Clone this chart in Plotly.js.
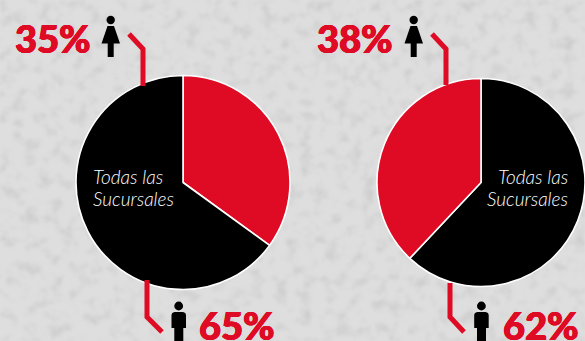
<!DOCTYPE html>
<html>
<head>
<meta charset="utf-8">
<script src="https://cdn.plot.ly/plotly-3.0.1.min.js"></script>
<style>
html, body { margin: 0; padding: 0; width: 585px; height: 341px; overflow: hidden; background: #d9d9d9; }
#wall { position: absolute; left: 0; top: 0; }
#chart { position: absolute; left: 0; top: 0; width: 585px; height: 341px; }
</style>
</head>
<body>
<!-- Plaster-like backdrop behind the chart -->
<svg id="wall" width="585" height="341">
  <filter id="plaster" x="0" y="0" width="100%" height="100%">
    <feTurbulence type="fractalNoise" baseFrequency="0.08" numOctaves="3" seed="11"/>
    <feColorMatrix type="matrix" values="0 0 0 0 0.4  0 0 0 0 0.4  0 0 0 0 0.4  0.8 0 0 0 -0.38"/>
    <feGaussianBlur stdDeviation="1.2"/>
  </filter>
  <rect width="585" height="341" fill="#dedede"/>
  <rect width="585" height="341" filter="url(#plaster)"/>
</svg>
<div id="chart"></div>
<script>
// Share of women and men, all branches, for the two periods
const groupLabels = ["Mujeres", "Hombres"];
const leftValues = [35, 65];
const rightValues = [62, 38];
const rightLabels = ["Hombres", "Mujeres"];
const leftColors = ["#df0a24", "#000000"];
const rightColors = ["#000000", "#df0a24"];
const centerLines = ["Todas las", "Sucursales"];
const womenText = ["35%", "38%"];
const menText = ["65%", "62%"];

const W = 585, H = 341;
const RED = "#df0a24";
const fx = x => x / W;
const fy = y => 1 - y / H;

function pieDomain(cx, cy, r) {
  return { x: [fx(cx - r), fx(cx + r)], y: [fy(cy + r), fy(cy - r)] };
}

function pieTrace(labels, values, colors, domain) {
  return {
    type: "pie", labels, values, sort: false, direction: "clockwise", rotation: 0,
    textinfo: "none", hoverinfo: "label+percent", showlegend: false,
    marker: { colors, line: { color: "#ffffff", width: 1.6 } }, domain
  };
}

// Polyline or closed outline in page pixels, placed on the paper
function pathOf(points, closed) {
  const d = points.map((p, i) => (i ? "L" : "M") + fx(p[0]).toFixed(5) + "," + fy(p[1]).toFixed(5)).join(" ");
  return d + (closed ? " Z" : "");
}

function leader(points) {
  return { type: "path", xref: "paper", yref: "paper", path: pathOf(points), line: { color: RED, width: 5 }, layer: "above" };
}

function solid(points) {
  return { type: "path", xref: "paper", yref: "paper", path: pathOf(points, true), fillcolor: "#000", line: { width: 0 }, layer: "above" };
}

function head(cx, cy, r) {
  return { type: "circle", xref: "paper", yref: "paper", x0: fx(cx - r), x1: fx(cx + r), y0: fy(cy + r), y1: fy(cy - r), fillcolor: "#000", line: { width: 0 }, layer: "above" };
}

function womanIcon(dx) {
  return [
    head(110.7 + dx, 20, 4.2),
    solid([[107.5 + dx, 26], [114 + dx, 26], [120 + dx, 43.5], [113.7 + dx, 43.5], [113.7 + dx, 57], [107.7 + dx, 57], [107.7 + dx, 43.5], [101.5 + dx, 43.5]])
  ];
}

function manIcon(dx) {
  return [
    head(178.7 + dx, 306, 4.4),
    solid([[174.5 + dx, 312], [183 + dx, 312], [185.3 + dx, 313], [186 + dx, 315], [186 + dx, 328], [183.3 + dx, 328], [183.3 + dx, 341], [174.3 + dx, 341], [174.3 + dx, 328], [171.5 + dx, 328], [171.5 + dx, 315], [172.2 + dx, 313]])
  ];
}

function percentNote(text, x, y) {
  return {
    text, xref: "paper", yref: "paper", x: fx(x), y: fy(y), xanchor: "center", yanchor: "middle", showarrow: false,
    font: {
      family: "Lato, sans-serif", size: 38, color: RED, weight: 900,
      shadow: "0.6px 0 0 " + RED + ", -0.6px 0 0 " + RED + ", 0 0.4px 0 " + RED + ", 0 -0.4px 0 " + RED
    }
  };
}

function centerNote(text, x, y, side) {
  return {
    text, xref: "paper", yref: "paper", x: fx(x), y: fy(y), xanchor: side, yanchor: "middle", showarrow: false, align: side,
    font: { family: "Lato, sans-serif", size: 19, color: "#ffffff", style: "italic", weight: 300 }
  };
}

const data = [
  pieTrace(groupLabels, leftValues, leftColors, pieDomain(183, 182.5, 107)),
  pieTrace(rightLabels, rightValues, rightColors, pieDomain(481, 182.5, 104))
];

const layout = {
  width: W, height: H,
  margin: { l: 0, r: 0, t: 0, b: 0 },
  paper_bgcolor: "rgba(0,0,0,0)",
  plot_bgcolor: "rgba(0,0,0,0)",
  showlegend: false,
  shapes: [
    leader([[143, 86], [143, 49], [129, 34]]),
    leader([[147, 280], [147, 317], [162, 332]]),
    leader([[446, 85], [446, 49], [432, 34]]),
    leader([[450, 283], [450, 317], [464, 332]]),
    ...womanIcon(0), ...womanIcon(303),
    ...manIcon(0), ...manIcon(302.7)
  ],
  annotations: [
    percentNote(womenText[0], 52.5, 38),
    percentNote(womenText[1], 355, 38),
    percentNote(menText[0], 237, 325),
    percentNote(menText[1], 541, 325),
    centerNote(centerLines[0], 91, 176, "left"),
    centerNote(centerLines[1], 91, 198, "left"),
    centerNote(centerLines[0], 570, 176, "right"),
    centerNote(centerLines[1], 570, 198, "right")
  ]
};

Plotly.newPlot("chart", data, layout, { displayModeBar: false, staticPlot: true });
</script>
</body>
</html>
